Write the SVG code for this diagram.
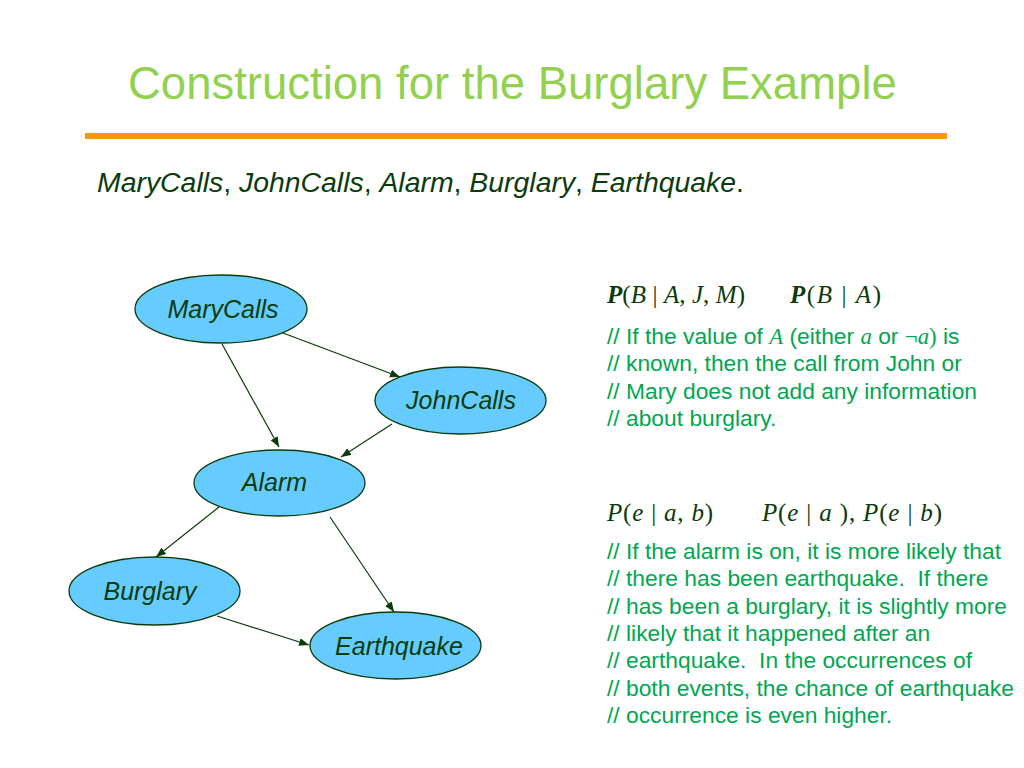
<svg xmlns="http://www.w3.org/2000/svg" width="1024" height="768" viewBox="0 0 1024 768">
<style>
.title{font-family:"Liberation Sans",Arial,sans-serif;font-size:45.5px;fill:#92D050}
.sub{font-family:"Liberation Sans",Arial,sans-serif;font-size:28.4px;fill:#0B3B0B}
.it{font-style:italic}
.node ellipse{fill:#66CCFF;stroke:#0B3B0B;stroke-width:1.3}
.node text{font-family:"Liberation Sans",Arial,sans-serif;font-size:25px;font-style:italic;fill:#0B3B0B;text-anchor:middle}
.edge{stroke:#0B3B0B;stroke-width:1.2;fill:none;marker-end:url(#ah)}
.cm{font-family:"Liberation Sans",Arial,sans-serif;font-size:22.8px;fill:#00A651;white-space:pre}
.mi{font-family:"Liberation Serif","Times New Roman",serif;font-style:italic}
.mr{font-family:"Liberation Serif","Times New Roman",serif}
.math{font-family:"Liberation Serif","Times New Roman",serif;font-size:25px;fill:#0B3B0B}
</style>
<defs>
<marker id="ah" markerWidth="11" markerHeight="9" refX="10" refY="4" orient="auto" markerUnits="userSpaceOnUse">
<path d="M0,0 L10,4 L0,8 z" fill="#0B3B0B"/>
</marker>
</defs>
<rect width="1024" height="768" fill="#ffffff"/>
<text class="title" x="128" y="99">Construction for the Burglary Example</text>
<rect x="85" y="133" width="862" height="6" fill="#F7980F"/>
<text class="sub" x="97" y="192"><tspan class="it">MaryCalls</tspan>, <tspan class="it">JohnCalls</tspan>, <tspan class="it">Alarm</tspan>, <tspan class="it">Burglary</tspan>, <tspan class="it">Earthquake</tspan>.</text>

<g id="connectors">
<line class="edge" x1="283" y1="333" x2="400" y2="377"/>
<line class="edge" x1="222" y1="344" x2="279" y2="447"/>
<line class="edge" x1="392" y1="424" x2="341" y2="457"/>
<line class="edge" x1="219" y1="507" x2="156" y2="557"/>
<line class="edge" x1="330" y1="517" x2="394" y2="612"/>
<line class="edge" x1="217" y1="616" x2="309" y2="645"/>
</g>

<g id="MaryCalls" class="node"><ellipse cx="221" cy="309" rx="86" ry="34"/><text x="223" y="318">MaryCalls</text></g>
<g id="JohnCalls" class="node"><ellipse cx="460.5" cy="400.5" rx="85.5" ry="33.5"/><text x="461" y="409">JohnCalls</text></g>
<g id="Alarm" class="node"><ellipse cx="279.5" cy="483" rx="85.5" ry="33"/><text x="274.5" y="491">Alarm</text></g>
<g id="Burglary" class="node"><ellipse cx="154.5" cy="591" rx="85.5" ry="34"/><text x="150" y="600">Burglary</text></g>
<g id="Earthquake" class="node"><ellipse cx="395.5" cy="645.5" rx="85.5" ry="33.5"/><text x="399" y="655">Earthquake</text></g>

<text class="math" x="607" y="303" textLength="138" lengthAdjust="spacing"><tspan font-weight="bold" font-style="italic">P</tspan>(<tspan font-style="italic">B</tspan> | <tspan font-style="italic">A</tspan>, <tspan font-style="italic">J</tspan>, <tspan font-style="italic">M</tspan>)</text>
<text class="math" x="790" y="303" textLength="91" lengthAdjust="spacing"><tspan font-weight="bold" font-style="italic">P</tspan>(<tspan font-style="italic">B</tspan> | <tspan font-style="italic">A</tspan>)</text>

<text class="cm" x="607" y="344">// If the value of <tspan class="mi">A</tspan> (either <tspan class="mi">a</tspan> or <tspan class="mr">¬</tspan><tspan class="mi">a</tspan><tspan class="mr">)</tspan> is</text>
<text class="cm" x="607" y="371.3">// known, then the call from John or</text>
<text class="cm" x="607" y="398.6">// Mary does not add any information</text>
<text class="cm" x="607" y="426">// about burglary.</text>

<text class="math" x="607" y="521" textLength="106" lengthAdjust="spacing"><tspan font-style="italic">P</tspan>(<tspan font-style="italic">e</tspan> | <tspan font-style="italic">a</tspan>, <tspan font-style="italic">b</tspan>)</text>
<text class="math" x="762" y="521" textLength="180" lengthAdjust="spacing"><tspan font-style="italic">P</tspan>(<tspan font-style="italic">e</tspan> | <tspan font-style="italic">a</tspan> ), <tspan font-style="italic">P</tspan>(<tspan font-style="italic">e</tspan> | <tspan font-style="italic">b</tspan>)</text>

<text class="cm" x="607" y="559">// If the alarm is on, it is more likely that</text>
<text class="cm" x="607" y="586.3">// there has been earthquake.&#160; If there</text>
<text class="cm" x="607" y="613.6">// has been a burglary, it is slightly more</text>
<text class="cm" x="607" y="640.9">// likely that it happened after an</text>
<text class="cm" x="607" y="668.2">// earthquake.&#160; In the occurrences of</text>
<text class="cm" x="607" y="695.5">// both events, the chance of earthquake</text>
<text class="cm" x="607" y="722.8">// occurrence is even higher.</text>
</svg>
